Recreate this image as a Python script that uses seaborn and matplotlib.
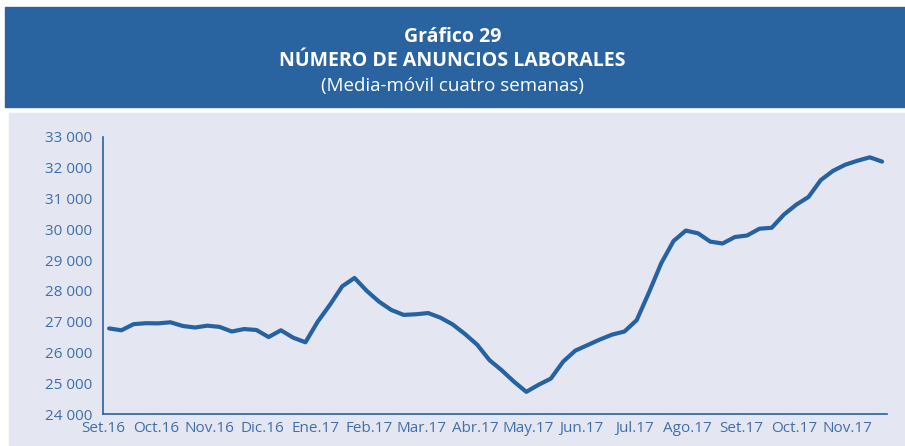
import numpy as np
import pandas as pd
import seaborn as sns
import matplotlib.pyplot as plt
from matplotlib.patches import Rectangle
from matplotlib.ticker import FuncFormatter

# weekly values (4-week moving average), Sep 2016 - Nov 2017
anuncios = [26780, 26720, 26920, 26950, 26945, 26980, 26860, 26810, 26870, 26830,
            26680, 26760, 26730, 26500, 26720, 26480, 26330, 27000, 27550, 28150,
            28420, 28000, 27650, 27380, 27220, 27240, 27280, 27130, 26910, 26600,
            26250, 25750, 25420, 25050, 24720, 24950, 25150, 25700, 26060, 26240,
            26420, 26580, 26680, 27050, 27950, 28900, 29620, 29960, 29870, 29600,
            29540, 29750, 29800, 30020, 30050, 30480, 30800, 31050, 31600, 31900,
            32100, 32230, 32340, 32200]
meses = ["Set.16", "Oct.16", "Nov.16", "Dic.16", "Ene.17", "Feb.17", "Mar.17",
         "Abr.17", "May.17", "Jun.17", "Jul.17", "Ago.17", "Set.17", "Oct.17", "Nov.17"]

df = pd.DataFrame({"semana": np.arange(len(anuncios)), "anuncios": anuncios})

azul = "#2762a0"
texto = "#3f6fab"
fondo = "#e4e6f2"

sns.set_style("white", {"axes.facecolor": fondo})
plt.rcParams["font.family"] = ["Open Sans", "DejaVu Sans"]

fig = plt.figure(figsize=(9.05, 4.46), dpi=100)
W, H = 905, 446
# header band and panel background
fig.patches.append(Rectangle((5 / W, 1 - 107 / H), 900 / W, 100 / H,
                             transform=fig.transFigure, color="#2a64a0", zorder=-2))
fig.patches.append(Rectangle((9 / W, 0), 896 / W, 1 - 113 / H,
                             transform=fig.transFigure, color=fondo, zorder=-2))

fig.text(0.5, 1 - 37 / H, "Gráfico 29", ha="center", va="center",
         color="white", fontsize=14, fontweight="bold")
fig.text(0.5, 1 - 61 / H, "NÚMERO DE ANUNCIOS LABORALES", ha="center", va="center",
         color="white", fontsize=14, fontweight="bold")
fig.text(0.5, 1 - 86 / H, "(Media-móvil cuatro semanas)", ha="center", va="center",
         color="white", fontsize=13.5)

ax = fig.add_axes([103 / W, 1 - 414 / H, (887 - 103) / W, (414 - 137) / H])
sns.lineplot(data=df, x="semana", y="anuncios", ax=ax, color=azul, linewidth=3,
             solid_joinstyle="round", solid_capstyle="round")

ax.set_ylim(24000, 33000)
ax.set_yticks(np.arange(24000, 33001, 1000))
ax.yaxis.set_major_formatter(FuncFormatter(lambda v, p: f"{int(v):,}".replace(",", " ")))
ax.set_xlim(-0.5, 63.4)
ax.set_xticks(np.arange(len(meses)) * 52 / 12 - 0.5)
ax.set_xticklabels(meses)
ax.set_xlabel("")
ax.set_ylabel("")

for s in ["top", "right"]:
    ax.spines[s].set_visible(False)
for s in ["left", "bottom"]:
    ax.spines[s].set_color(azul)
    ax.spines[s].set_linewidth(1.2)
ax.tick_params(axis="both", colors=azul, labelcolor=texto, labelsize=11,
               direction="out", length=4, width=1.2, pad=4)
ax.tick_params(axis="x", pad=1)

fig.savefig("out.png", dpi=100)
